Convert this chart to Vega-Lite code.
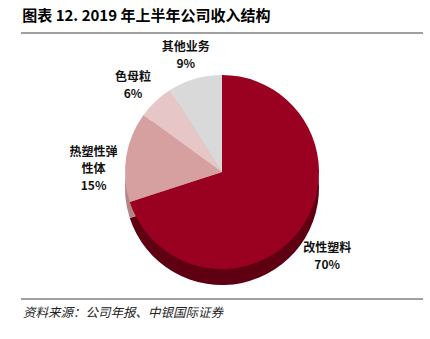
{
  "$schema": "https://vega.github.io/schema/vega-lite/v6.json",
  "width": 430,
  "height": 339,
  "autosize": {"type": "fit", "contains": "padding"},
  "padding": {"top": 9, "left": 20, "right": 6, "bottom": 8},
  "background": "#ffffff",
  "title": {
    "text": "图表 12. 2019 年上半年公司收入结构",
    "anchor": "start",
    "font": "Noto Sans CJK SC",
    "fontSize": 15,
    "fontWeight": "bold",
    "color": "#000000",
    "offset": 8,
    "dx": 2
  },
  "config": {"view": {"stroke": null}},
  "data": {
    "values": [
      {"category": "改性塑料", "value": 70, "idx": 1, "label": "改性塑料\n70%"},
      {"category": "热塑性弹性体", "value": 15, "idx": 2, "label": "热塑性弹\n性体\n15%"},
      {"category": "色母粒", "value": 6, "idx": 3, "label": "色母粒\n6%"},
      {"category": "其他业务", "value": 9, "idx": 4, "label": "其他业务\n9%"}
    ]
  },
  "layer": [
    {
      "data": {"values": [{}]},
      "mark": {"type": "rule", "color": "#808080", "strokeWidth": 1.5},
      "encoding": {"y": {"value": 0}}
    },
    {
      "data": {"values": [{}]},
      "mark": {"type": "rule", "color": "#808080", "strokeWidth": 1.5},
      "encoding": {"y": {"value": {"expr": "height - 32"}}}
    },
    {
      "data": {"values": [{}]},
      "mark": {
        "type": "text",
        "align": "left",
        "baseline": "middle",
        "font": "Noto Sans CJK SC",
        "fontSize": 12.5,
        "fontStyle": "italic",
        "color": "#222222"
      },
      "encoding": {
        "x": {"value": 2},
        "y": {"value": {"expr": "height - 18"}},
        "text": {"value": "资料来源：公司年报、中银国际证券"}
      }
    },
    {
      "mark": {"type": "arc", "outerRadius": 97, "yOffset": 6},
      "encoding": {
        "theta": {"field": "value", "type": "quantitative", "stack": true},
        "order": {"field": "idx", "type": "quantitative"},
        "color": {
          "field": "category",
          "type": "nominal",
          "scale": {
            "domain": ["改性塑料", "热塑性弹性体", "色母粒", "其他业务"],
            "range": ["#5e0012", "#b58585", "#cdaeae", "#bcbcbc"]
          },
          "legend": null
        }
      }
    },
    {
      "mark": {"type": "arc", "outerRadius": 97, "yOffset": -10},
      "encoding": {
        "theta": {"field": "value", "type": "quantitative", "stack": true},
        "order": {"field": "idx", "type": "quantitative"},
        "fill": {
          "field": "category",
          "type": "nominal",
          "scale": {
            "domain": ["改性塑料", "热塑性弹性体", "色母粒", "其他业务"],
            "range": ["#9a0020", "#d6a0a0", "#e6c6c6", "#d9d9d9"]
          },
          "legend": null
        }
      }
    },
    {
      "mark": {
        "type": "text",
        "radius": 130,
        "yOffset": -10,
        "lineBreak": "\n",
        "lineHeight": 17,
        "font": "Noto Sans CJK SC",
        "fontSize": 12,
        "fontWeight": "bold",
        "color": "#111111",
        "align": "center",
        "baseline": "middle"
      },
      "encoding": {
        "theta": {"field": "value", "type": "quantitative", "stack": true},
        "order": {"field": "idx", "type": "quantitative"},
        "text": {"field": "label", "type": "nominal"}
      }
    }
  ],
  "resolve": {"scale": {"color": "independent"}}
}
